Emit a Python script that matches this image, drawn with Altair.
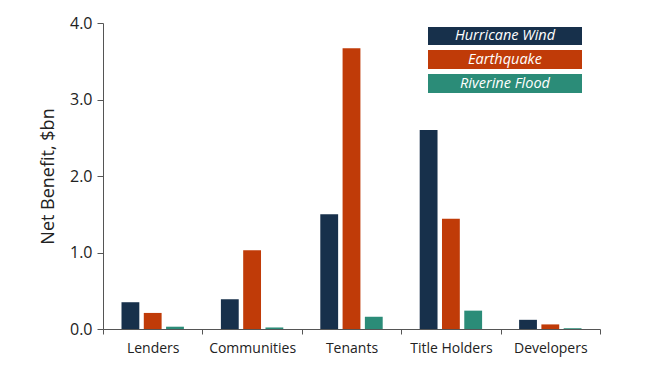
import altair as alt
import pandas as pd

categories = ["Lenders", "Communities", "Tenants", "Title Holders", "Developers"]
series = ["Hurricane Wind", "Earthquake", "Riverine Flood"]
hurricane_wind = [0.35, 0.39, 1.50, 2.60, 0.12]
earthquake = [0.21, 1.03, 3.67, 1.44, 0.06]
riverine_flood = [0.03, 0.02, 0.16, 0.24, 0.01]
colors = ["#17304b", "#c03b08", "#2b8c78"]

rows = []
for i, c in enumerate(categories):
    for s, vals in zip(series, [hurricane_wind, earthquake, riverine_flood]):
        rows.append({"Category": c, "Series": s, "Value": vals[i]})
df = pd.DataFrame(rows)

FONT = "Open Sans"

bars = alt.Chart(df).mark_bar().encode(
    x=alt.X("Category:N", sort=categories,
            scale=alt.Scale(paddingInner=0, paddingOuter=0),
            axis=alt.Axis(title=None, labelAngle=0, labelFontSize=14, labelColor="#222",
                          labelFont=FONT, tickBand="extent", tickColor="#555", domainColor="#555",
                          tickSize=5, labelPadding=7, grid=False)),
    xOffset=alt.XOffset("Series:N", sort=series,
                        scale=alt.Scale(paddingInner=0.2, paddingOuter=0.83)),
    y=alt.Y("Value:Q", scale=alt.Scale(domain=[0, 4], nice=False),
            axis=alt.Axis(title="Net Benefit, $bn", format=".1f", values=[0, 1, 2, 3, 4],
                          labelFontSize=16, titleFontSize=18, titleFontWeight="normal",
                          labelFont=FONT, titleFont=FONT, labelColor="#222", titleColor="#222",
                          tickColor="#555", domainColor="#555", tickSize=6, labelPadding=5,
                          titlePadding=12, grid=False)),
    color=alt.Color("Series:N", sort=series, scale=alt.Scale(domain=series, range=colors), legend=None),
)

layers = [bars]
box_y = [(4, 22), (27, 46), (51, 70)]
for s, col, (y0, y1) in zip(series, colors, box_y):
    rect = alt.Chart(pd.DataFrame({"Series": [s]})).mark_rect(color=col).encode(
        x=alt.value(325), x2=alt.value(479), y=alt.value(y0), y2=alt.value(y1))
    txt = alt.Chart(pd.DataFrame({"Series": [s]})).mark_text(
        color="white", fontStyle="italic", fontSize=14.5, font=FONT, baseline="middle", align="center"
    ).encode(x=alt.value(402), y=alt.value((y0 + y1) / 2), text="Series:N")
    layers += [rect, txt]

chart = alt.layer(*layers).properties(
    width=497, height=306,
    autosize=alt.AutoSizeParams(type="none"),
    padding={"left": 95, "top": 15, "right": 45, "bottom": 38},
    background="white",
).configure_view(stroke=None)

chart.save("out.html", embed_options={"renderer": "svg", "actions": False})
